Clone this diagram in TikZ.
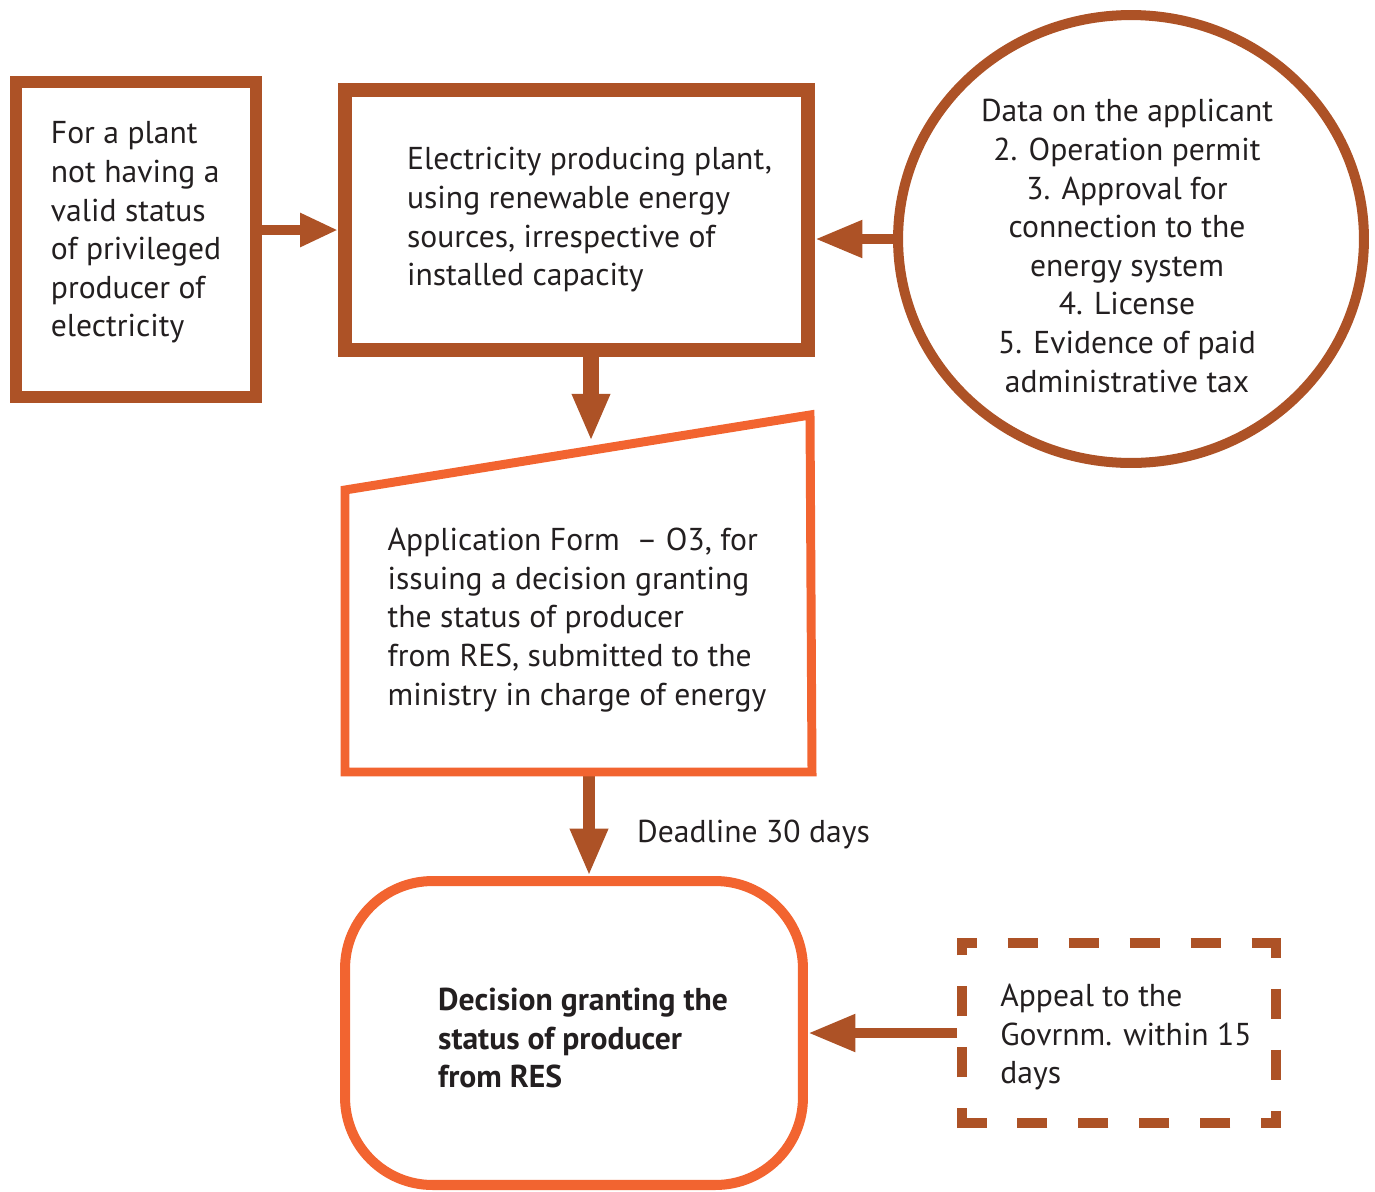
\documentclass[tikz,border=0pt]{standalone}
\usepackage{fontspec}
\setmainfont{PT Sans}
\usetikzlibrary{arrows.meta,shapes.geometric,positioning}
\definecolor{rust}{HTML}{AD5226}
\definecolor{flame}{HTML}{F26430}
\definecolor{ink}{HTML}{231F20}

\begin{document}
\begin{tikzpicture}[x=0.02cm, y=-0.02cm,
  every node/.style={text=ink, font=\fontsize{18}{22}\selectfont},
  box/.style={rectangle, draw=rust},
  words/.style={align=left},
  dashbox/.style={draw=rust, line width=5.7pt, shorten <=-2.85pt, shorten >=-2.85pt, dash pattern=on 17.35pt off 17.35pt, dash phase=5.9pt},
  flow/.style={draw=rust, line width=6pt, -{Triangle[length=27pt,width=20pt]}}]
\useasboundingbox (0,0) rectangle (1375,1191);

\node (plant) [box, line width=6.8pt, minimum width=4.8cm, minimum height=6.3cm] at (136,239.5) {};
\node (planttext) [words] at ([yshift=0.14cm]plant.center) {For a plant\\ not having a\\ valid status\\ of privileged\\ producer of\\ electricity};
\node (rescplant) [box, line width=8pt, minimum width=9.26cm, minimum height=5.2cm] at (576.5,220) {};
\node (rescplanttext) [words] at ([xshift=0.26cm]rescplant.center) {Electricity producing plant,\\ using renewable energy\\ sources, irrespective of\\ installed capacity};
\node (docs) [ellipse, draw=rust, line width=5.7pt, minimum width=9.32cm, minimum height=8.96cm] at (1131,239) {};
\node (docstext) [align=center] at ([xshift=-0.08cm,yshift=-0.14cm]docs.center) {Data on the applicant\\ 2. Operation permit\\ 3. Approval for\\ connection to the\\ energy system\\ 4. License\\ 5. Evidence of paid\\ administrative tax};

\coordinate (formTL) at (345,490);
\coordinate (formTR) at (810,415);
\coordinate (formBR) at (812,772);
\coordinate (formBL) at (345,772);
\coordinate (formtop) at (591,450);
\coordinate (formbot) at (589,776);
\node (form) [words] at (577,620) {Application Form \ --~O3, for\\ issuing a decision granting\\ the status of producer\\ from RES, submitted to the\\ ministry in charge of energy};
\node (deadline) [anchor=west] at (631,834) {Deadline 30 days};

\node (decision) [rectangle, draw=flame, line width=5.7pt, rounded corners=1.75cm, minimum width=9.16cm, minimum height=6.08cm] at (574,1033) {};
\node (decisiontext) [words, font=\fontsize{18}{22}\selectfont\bfseries] at (583,1038) {Decision granting the\\ status of producer\\ from RES};
\node (appeal) [rectangle, minimum width=6.28cm, minimum height=3.6cm, outer sep=0pt] at (1119,1033) {};
\node (appealtext) [words] at (1126,1037) {Appeal to the\\ Govrnm. within 15\\ days};
\foreach \a/\b in {north west/north east, north east/south east, south east/south west, south west/north west}
  \draw[dashbox] (appeal.\a) -- (appeal.\b);

\draw[flow, -{Triangle[length=21.6pt,width=18pt]}] ([yshift=0.19cm]plant.east) -- ([yshift=0.19cm]plant.east -| rescplant.west);
\draw[flow] (docs.west) -- (docs.west -| rescplant.east);
\draw[flow, line width=9pt, shorten >=5pt] (rescplant.south -| formtop) -- (formtop);
\draw[flow, line width=7pt] (formbot) -- (formbot |- decision.north);
\draw[flow] ([xshift=-2.85pt]appeal.west) -- (appeal.west -| decision.east);

\draw[flame, line width=5.1pt] (formTL) -- (formTR) -- (formBR) -- (formBL) -- cycle;
\end{tikzpicture}
\end{document}
